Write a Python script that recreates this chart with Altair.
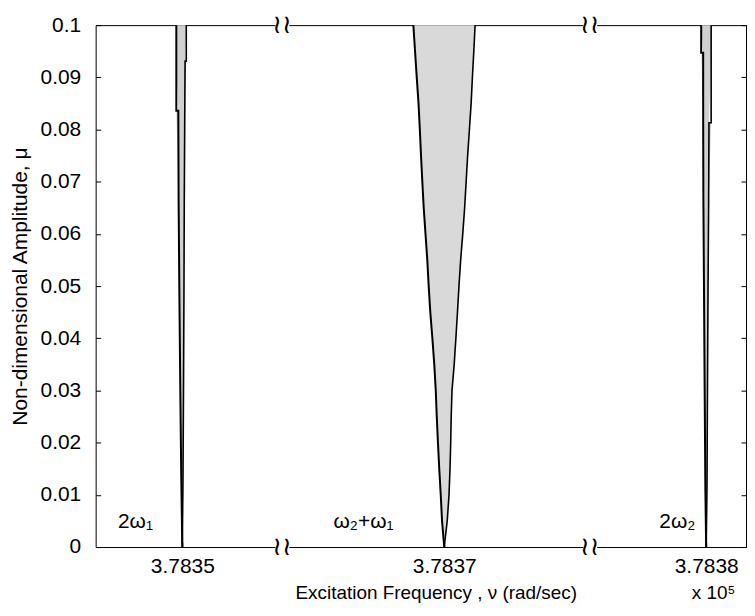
import altair as alt
import pandas as pd

FONT = "Liberation Sans"

# centre frequencies of the three instability regions (rad/sec), shown x 10^5
tick_values = [378350.0, 378370.0, 378380.0]
region_names = ["2ω₁", "ω₂+ω₁", "2ω₂"]
y_ticks = [0, 0.01, 0.02, 0.03, 0.04, 0.05, 0.06, 0.07, 0.08, 0.09, 0.1]

# 2ω1 region: amplitude and boundary offsets (rad/sec) from 378350
mu_a = [0, 0.013, 0.03, 0.05, 0.0665, 0.0836, 0.0836, 0.0931, 0.0931, 0.1]
left_a = [0, -0.010, -0.020, -0.030, -0.037, -0.040, -0.060, -0.060, -0.060, -0.060]
right_a = [0, 0.007, 0.012, 0.017, 0.020, 0.025, 0.025, 0.028, 0.040, 0.040]

# ω2+ω1 region: offsets (rad/sec) from 378370
mu_b = [0, 0.005, 0.01, 0.015, 0.02, 0.025, 0.03, 0.035, 0.04, 0.045, 0.05,
        0.055, 0.06, 0.065, 0.07, 0.075, 0.08, 0.085, 0.09, 0.095, 0.1]
left_b = [0, -0.022, -0.035, -0.050, -0.063, -0.075, -0.085, -0.100, -0.119, -0.140, -0.156,
          -0.170, -0.188, -0.206, -0.220, -0.233, -0.245, -0.258, -0.276, -0.293, -0.310]
right_b = [0, 0.030, 0.048, 0.058, 0.065, 0.070, 0.078, 0.100, 0.117, 0.133, 0.148,
           0.165, 0.186, 0.205, 0.220, 0.235, 0.253, 0.270, 0.283, 0.297, 0.310]

# 2ω2 region: offsets (rad/sec) from 378380
mu_c = [0, 0.011, 0.03, 0.05, 0.0665, 0.0813, 0.0813, 0.0947, 0.0947, 0.1]
left_c = [0, -0.008, -0.015, -0.022, -0.028, -0.030, -0.030, -0.030, -0.050, -0.050]
right_c = [0, 0.008, 0.013, 0.019, 0.025, 0.028, 0.050, 0.050, 0.050, 0.050]

# region label positions (offset rad/sec, amplitude)
label_dx = [-0.47, -0.81, -0.29]
label_mu = [0.0048, 0.0048, 0.0048]

# visible frequency window of each axis segment (offsets from centre)
seg_lo = [-0.87, -1.56, -1.10]
seg_hi = [0.93, 1.39, 0.40]
seg_w = [180, 295, 150]

mus = [mu_a, mu_b, mu_c]
lefts = [left_a, left_b, left_c]
rights = [right_a, right_b, right_c]
fills = ["#d0d0d0", "#d9d9d9", "#d0d0d0"]

LBL = "format(datum.value / 100000, '.4f')"
H = 524


def panel(i):
    c = tick_values[i]
    df = pd.DataFrame({"mu": mus[i],
                       "lo": [c + v for v in lefts[i]],
                       "hi": [c + v for v in rights[i]]})
    lab = pd.DataFrame({"x": [c + label_dx[i]], "mu": [label_mu[i]], "t": [region_names[i]]})
    xs = alt.Scale(domain=[c + seg_lo[i], c + seg_hi[i]], nice=False, zero=False)
    ys = alt.Scale(domain=[0, 0.1], nice=False)

    cx = dict(values=[c], grid=False, minExtent=0)
    if i == 1:
        ax_bottom = alt.Axis(orient="bottom", labelExpr=LBL, ticks=False, tickSize=0, domain=True,
                             labelPadding=9, title="Excitation Frequency , ν (rad/sec)",
                             titlePadding=7, **cx)
    elif i == 2:
        ax_bottom = alt.Axis(orient="bottom", labelExpr=LBL, ticks=False, tickSize=0, domain=True,
                             labelPadding=9, title="x 10⁵", titlePadding=7, titleX=117,
                             titleAlign="center", **cx)
    else:
        ax_bottom = alt.Axis(orient="bottom", labelExpr=LBL, ticks=False, tickSize=0, domain=True,
                             labelPadding=9, title=None, **cx)
    ax_top = alt.Axis(orient="top", labels=False, ticks=False, tickSize=0, domain=True,
                      title=None, **cx)
    ax_bottom_t = alt.Axis(orient="bottom", offset=-5, labels=False, ticks=True, tickSize=5,
                           domain=False, title=None, **cx)
    ax_top_t = alt.Axis(orient="top", offset=-5, labels=False, ticks=True, tickSize=5,
                        domain=False, title=None, **cx)

    cy = dict(values=y_ticks, grid=False, minExtent=0)
    if i == 0:
        ay_main = alt.Axis(orient="left", format=".2~f", ticks=False, tickSize=0,
                           domain=True, labelPadding=15,
                           title="Non-dimensional Amplitude, μ", titleFontSize=21,
                           titlePadding=10, **cy)
        ay_t = alt.Axis(orient="left", offset=-5, labels=False, ticks=True,
                        tickSize=5, domain=False, title=None, **cy)
    elif i == 2:
        ay_main = alt.Axis(orient="right", labels=False, ticks=False, tickSize=0,
                           domain=True, title=None, **cy)
        ay_t = alt.Axis(orient="right", offset=-5, labels=False, ticks=True,
                        tickSize=5, domain=False, title=None, **cy)
    else:
        ay_main = None
        ay_t = None

    base = alt.Chart(df)
    area = base.mark_area(orient="horizontal", color=fills[i], opacity=1).encode(
        x=alt.X("lo:Q", scale=xs, axis=ax_bottom),
        x2="hi:Q",
        y=alt.Y("mu:Q", scale=ys, axis=ay_main),
    )
    left_line = base.mark_line(color="black", strokeWidth=2).encode(
        x=alt.X("lo:Q", scale=xs, axis=ax_top),
        y=alt.Y("mu:Q", scale=ys, axis=ay_t),
        order=alt.Order("mu:Q"),
    )
    right_line = base.mark_line(color="black", strokeWidth=1.6).encode(
        x=alt.X("hi:Q", scale=xs, axis=ax_bottom_t),
        y=alt.Y("mu:Q", scale=ys, axis=None),
        order=alt.Order("mu:Q"),
    )
    text = alt.Chart(lab).mark_text(font=FONT, fontSize=21, color="black", baseline="middle").encode(
        x=alt.X("x:Q", scale=xs, axis=ax_top_t),
        y=alt.Y("mu:Q", scale=ys, axis=None),
        text="t:N",
    )
    layers = [area, left_line, right_line, text]
    if i < 2:
        brk = pd.DataFrame({"x": [c + seg_hi[i], c + seg_hi[i]], "mu": [0.1, 0.0], "t": ["≀≀", "≀≀"]})
        breaks = alt.Chart(brk).mark_text(font="DejaVu Sans", fontSize=26, color="black",
                                          dx=7, baseline="middle").encode(
            x=alt.X("x:Q", scale=xs, axis=None),
            y=alt.Y("mu:Q", scale=ys, axis=None),
            text="t:N",
        )
        layers.append(breaks)
    return alt.layer(*layers).resolve_axis(x="independent", y="independent").properties(
        width=seg_w[i], height=H)


chart = alt.hconcat(panel(0), panel(1), panel(2), spacing=14, bounds="flush").properties(
    padding={"left": 0, "top": 2, "right": 0, "bottom": 0}
).configure_axis(
    labelFont=FONT, titleFont=FONT, labelFontSize=21, titleFontSize=19,
    titleFontWeight="normal", labelColor="black", titleColor="black",
    domainColor="black", tickColor="black", domainWidth=1, tickWidth=1,
).configure_view(stroke="transparent")

chart.save("out.html", embed_options={"renderer": "svg", "actions": False})
